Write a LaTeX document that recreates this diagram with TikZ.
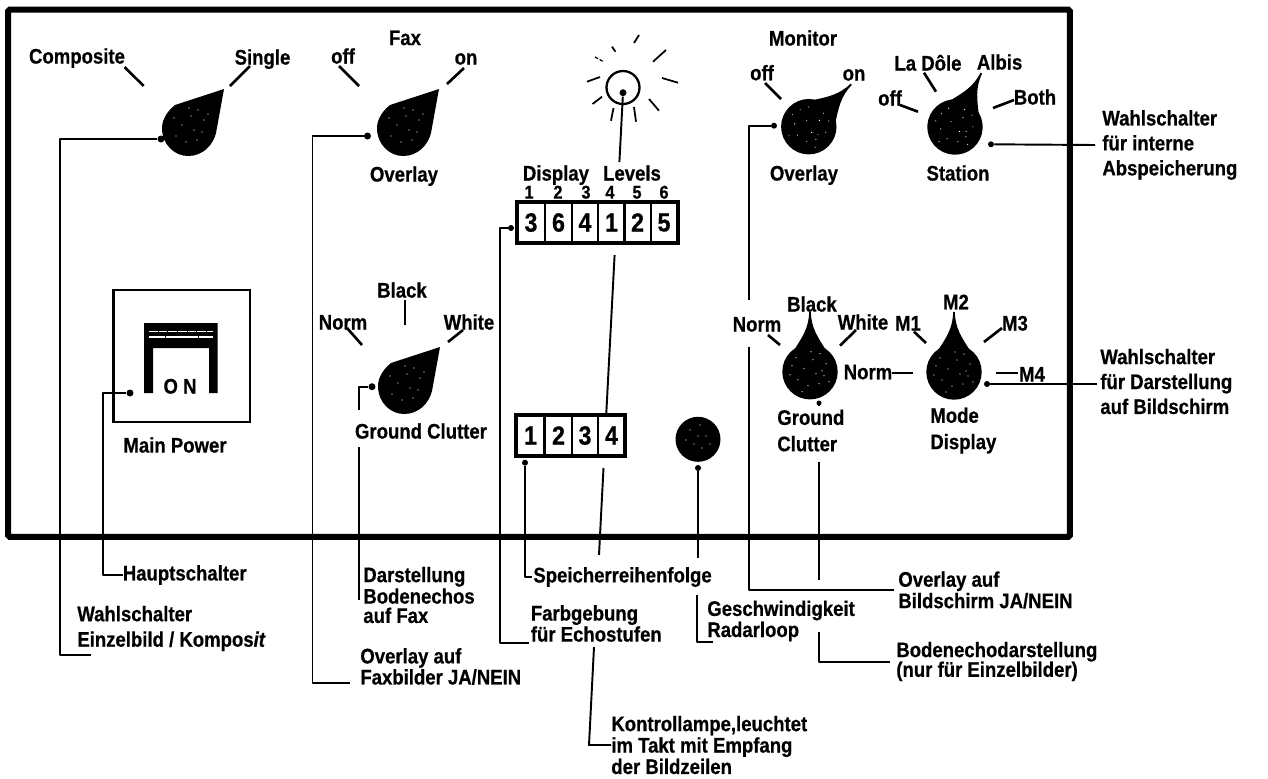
\documentclass[tikz,border=0pt]{standalone}
\usepackage{fontspec}
\setmainfont[FakeStretch=0.88,FakeBold=0.6]{Liberation Sans}
\usetikzlibrary{positioning}

\begin{document}
\begin{tikzpicture}[
  x=0.02cm, y=-0.02cm,
  font=\bfseries\fontsize{12}{13}\selectfont,
  lbl/.style={inner sep=0pt, text height=8.6pt, text depth=0pt},
  note/.style={inner sep=0pt, align=left, anchor=west},
  cell/.style={draw, line width=1.1pt, minimum width=0.54cm, minimum height=0.82cm, inner sep=0pt, font=\bfseries\fontsize{15}{16}\selectfont},
  framebox/.style={draw, line width=1.9pt, inner sep=0pt},
  dot/.style={circle, fill=black, inner sep=0pt, minimum size=0.14cm},
  lead/.style={line width=1.1pt, line join=round},
  tick/.style={line width=1.5pt},
  dropknob/.pic={
    \fill (36,-39) -- (-13,-23)
      .. controls (-23,-15) and (-26,-6) .. (-26,0)
      .. controls (-26,17) and (-13,28) .. (0,28)
      .. controls (15,28) and (25,17) .. (28,5) -- cycle;
    \foreach \sx/\sy in {3/-12,10/-18,16/-8,-6/-3,6/2,14/4,-12/8,-2/14,9/12,20/-14,-14/-10,1/-20}
      \fill[white] (\sx,\sy) circle[radius=0.6];
  },
  spoutknob/.pic={
    \fill (0,0) circle[radius=27.7];
    \fill (-0.9,-60) .. controls (-0.9,-44) and (-8,-34) .. (-17,-20) -- (17,-20)
      .. controls (8,-34) and (0.9,-44) .. (0.9,-60) -- cycle;
    \foreach \sx/\sy in {3/-12,10/-18,16/-8,-6/-3,6/2,14/4,-12/8,-2/14,9/12,-18/-6,-14/-14,1/-20,-8/20,12/-1,19/10,-20/3}
      \fill[white] (\sx,\sy) circle[radius=0.6];
  },
]
\useasboundingbox (0,0) rectangle (1268,778);

% --- Panel ---
\node[draw, line width=0.12cm, rounded corners=1pt, minimum width=21.24cm, minimum height=10.55cm, inner sep=0pt] (panel) at (539,273.25) {};

% --- Knobs ---
\pic (knobcomp) at (188,128) {dropknob};
\pic (knobfax) at (403,128) {dropknob};
\pic (knobclutter) at (404,386) {dropknob};
\pic[rotate=-45] (knobmon) at (808.8,126.7) {spoutknob};
\pic[rotate=-26] (knobstation) at (955,127) {spoutknob};
\pic (knobground) at (810,371.7) {spoutknob};
\pic (knobmode) at (954,372) {spoutknob};
\node[circle, fill=black, minimum size=0.9cm, inner sep=0pt] (knobspeed) at (698,439.3) {};
\foreach \sx/\sy in {690/430,700/425,706/436,694/444,702/448,710/444,686/440,698/436}
  \fill[white] (\sx,\sy) circle[radius=0.6];

% --- Main power switch ---
\node[framebox, line width=1.4pt, minimum width=2.73cm, minimum height=2.64cm] (powerbox) at (181.75,356) {};
\fill (144,323) rectangle (217.5,348) (144,348) rectangle (153,393) (209,348) rectangle (217.5,393);
\draw[white, line width=0.5pt, dash pattern=on 5pt off 0.5pt] (149,331) -- (213,331);
\draw[white, line width=0.7pt, dash pattern=on 9pt off 0.5pt] (149,337) -- (213,337);
\node[lbl] (onlabel) at (180,386) {O N};
\node[lbl] (mainpower) at (175,445) {Main Power};

% --- Lamp ---
\node[draw, circle, line width=1.3pt, minimum size=0.66cm, inner sep=0pt] (lamp) at (623,87.5) {};
\node[dot] (dotlamp) at (623,92.7) {};
\foreach \xa/\ya/\xb/\yb in {587/81.7/600/77, 592.6/104/602/96.7, 611/120.7/613.5/108, 636/121.7/634/107,
    612/46.7/615.5/51.7, 634/43/639/35, 653/61.7/666/50, 662/78/678/82.7, 649/99/659/110.7}
  \draw[line width=1pt] (\xa,\ya) -- (\xb,\yb);
\draw[line width=0.7pt, dash pattern=on 2pt off 1pt] (595,57) -- (604,62);

% --- Display levels ---
\node[lbl] (display) at (556,173) {Display};
\node[lbl] (levels) at (632,173) {Levels};
\foreach \i/\x in {1/529,2/558,3/586,4/610,5/637,6/664}
  \node[lbl, text height=7.5pt, font=\bfseries\fontsize{10.5}{11}\selectfont] (num\i) at (\x,192) {\i};
\foreach \i/\x/\d in {1/531/3,2/558.5/6,3/585/4,4/611.5/1,5/637.5/2,6/664/5}
  \node[cell] (lvl\i) at (\x,222.5) {\d};
\node[framebox, minimum width=3.22cm, minimum height=0.82cm] (lvlbox) at (597.5,222.5) {};

% --- Loop order ---
\foreach \i/\x in {1/530.5,2/558.5,3/585,4/611.5}
  \node[cell] (ord\i) at (\x,435.5) {\i};
\node[framebox, minimum width=2.18cm, minimum height=0.82cm] (ordbox) at (570.5,435.5) {};

% --- Panel labels ---
\node[lbl] (composite) at (77,56) {Composite};
\node[lbl] (single) at (262.5,57) {Single};
\node[lbl] (fax) at (405,37.5) {Fax};
\node[lbl] (faxoff) at (343,56) {off};
\node[lbl] (faxon) at (466,57) {on};
\node[lbl] (faxoverlay) at (404,174) {Overlay};
\node[lbl] (faxblack) at (402,290) {Black};
\node[lbl] (faxnorm) at (343,322) {Norm};
\node[lbl] (faxwhite) at (469,322) {White};
\node[lbl] (faxclutter) at (421,431) {Ground Clutter};
\node[lbl] (monitor) at (803,38) {Monitor};
\node[lbl] (monoff) at (762,72.7) {off};
\node[lbl] (monon) at (854,73) {on};
\node[lbl] (monoverlay) at (804,173) {Overlay};
\node[lbl] (station) at (958,173) {Station};
\node[lbl] (ladole) at (928,63) {La Dôle};
\node[lbl] (albis) at (999.6,62) {Albis};
\node[lbl] (stoff) at (890,98) {off};
\node[lbl] (both) at (1035,97) {Both};
\node[lbl] (monnorm) at (757,324) {Norm};
\node[lbl] (monblack) at (812,304) {Black};
\node[lbl] (monwhite) at (863,322) {White};
\node[lbl] (mone) at (908,323) {M1};
\node[lbl] (mtwo) at (956,301.7) {M2};
\node[lbl] (mthree) at (1015,323) {M3};
\node[lbl] (mfour) at (1032,374) {M4};
\node[lbl] (modenorm) at (868,371.7) {Norm};
\node[note] (monclutter) at (777,430.5) {Ground\\[2pt]Clutter};
\node[note] (modedisplay) at (930,430.5) {Mode\\[2pt]Display};

% --- Ticks at the switch positions ---
\foreach \xa/\ya/\xb/\yb in {124.5/67/143.7/86, 250/66/230/86, 339/66/359/86, 464/68/447/84,
    405/300/405/325, 347/328/362/345, 463/330/448/342,
    765/83/781/99, 924/72.7/936/91.7, 900/105/918/111.7, 993/108/1014/100,
    768/335/780/345, 856/330/840/345.7, 914/331.7/926/343, 1002/328/984/342,
    892/373/913/373, 996/373/1018/373}
  \draw[tick] (\xa,\ya) -- (\xb,\yb);

% --- Outer labels ---
\node[note] (wahlintern) at (1102,145) {Wahlschalter\\[1.2pt]für interne\\[1.2pt]Abspeicherung};
\node[note] (wahldisplay) at (1100,381.5) {Wahlschalter\\[1.2pt]für Darstellung\\[1.2pt]auf Bildschirm};
\node[note] (haupt) at (122.5,575) {Hauptschalter};
\node[note] (wahlcomp) at (77,628.5) {Wahlschalter\\[1.5pt]Einzelbild / Kompos\textit{it}};
\node[note] (darst) at (363,595) {Darstellung\\[-0.8pt]Bodenechos\\[-2pt]auf  Fax};
\node[note] (overfax) at (360,666.5) {Overlay auf\\[-1pt]Faxbilder JA/NEIN};
\node[note] (speicher) at (533,577) {Speicherreihenfolge};
\node[note] (farb) at (530.5,623.5) {Farbgebung\\[-1pt]für Echostufen};
\node[note] (kontroll) at (611,745) {Kontrollampe,leuchtet\\[-0.8pt]im Takt mit Empfang\\[-0.8pt]der Bildzeilen};
\node[note] (geschw) at (707,621) {Geschwindigkeit\\[-1pt]Radarloop};
\node[note] (overmon) at (898,590) {Overlay auf\\[-0.8pt]Bildschirm JA/NEIN};
\node[note] (bodenecho) at (896,661.5) {Bodenechodarstellung\\[-1.8pt](nur für Einzelbilder)};

% --- Leader ends ---
\node[dot] (dotcomp) at (161,139) {};
\node[dot] (dotpower) at (130,393) {};
\node[dot] (dotfax) at (367.5,136) {};
\node[dot] (dotclutter) at (372,386.7) {};
\node[dot, minimum size=0.12cm] (dotlvl) at (511,228) {};
\node[dot, minimum size=0.12cm] (dotord) at (525,462.7) {};
\node[dot, minimum size=0.12cm] (dotspeed) at (698,468) {};
\node[dot, minimum size=0.12cm] (dotmon) at (774,125.7) {};
\node[dot, minimum size=0.1cm] (dotground) at (819,403) {};
\node[dot, minimum size=0.12cm] (dotstation) at (991,144.3) {};
\node[dot, minimum size=0.12cm] (dotmode) at (987,384) {};
\coordinate (endcomp) at (91,655);
\coordinate (endclutter) at (359,410);
\coordinate (resclutter) at (359,447);
\coordinate (endclutterlow) at (359,600);
\coordinate (endfax) at (350,683);
\coordinate (endlvl) at (528.5,642.7);
\coordinate (endord) at (532,577);
\coordinate (lampa) at (619.4,162);
\coordinate (lampb) at (614.6,255);
\coordinate (lampc) at (606.2,415);
\coordinate (lampd) at (603.5,468);
\coordinate (lampe) at (599,555);
\coordinate (lampf) at (594,647);
\coordinate (lampg) at (589,745);
\coordinate (speeda) at (698,558);
\coordinate (speedb) at (697,595);
\coordinate (endspeed) at (713,641.7);
\coordinate (mona) at (749,300);
\coordinate (monb) at (749,346.7);
\coordinate (endmon) at (894,590);
\coordinate (grounda) at (819,461.7);
\coordinate (groundb) at (819,580);
\coordinate (groundc) at (819,631.7);
\coordinate (endground) at (890,662);
\coordinate (endstation) at (1095,145);
\coordinate (endmode) at (1097,384);

% --- Leaders ---
\draw[lead] (dotcomp) -- ++(-101,0) |- (endcomp);
\draw[lead] (dotpower) -- ++(-27,0) |- (haupt.west);
\draw[lead] (dotfax) -- ++(-55,0) |- (endfax);
\draw[lead] (dotclutter) -| (endclutter);
\draw[lead] (resclutter) -- (endclutterlow);
\draw[lead] (dotlvl) -- ++(-11,0) |- (endlvl);
\draw[lead] (dotord) |- (endord);
\draw[lead] (dotlamp) -- (lampa);
\draw[lead] (lampb) -- (lampc);
\draw[lead] (lampd) -- (lampe);
\draw[lead] (lampf) -- (lampg) -- (kontroll.west);
\draw[lead] (dotspeed) -- (speeda);
\draw[lead] (speedb) |- (endspeed);
\draw[lead] (dotmon) -| (mona);
\draw[lead] (monb) |- (endmon);
\draw[lead] (dotground) -- ++(0,2);
\draw[lead] (grounda) -- (groundb);
\draw[lead] (groundc) |- (endground);
\draw[lead] (dotstation) -- (endstation);
\draw[lead] (dotmode) -- (endmode);

\end{tikzpicture}
\end{document}
